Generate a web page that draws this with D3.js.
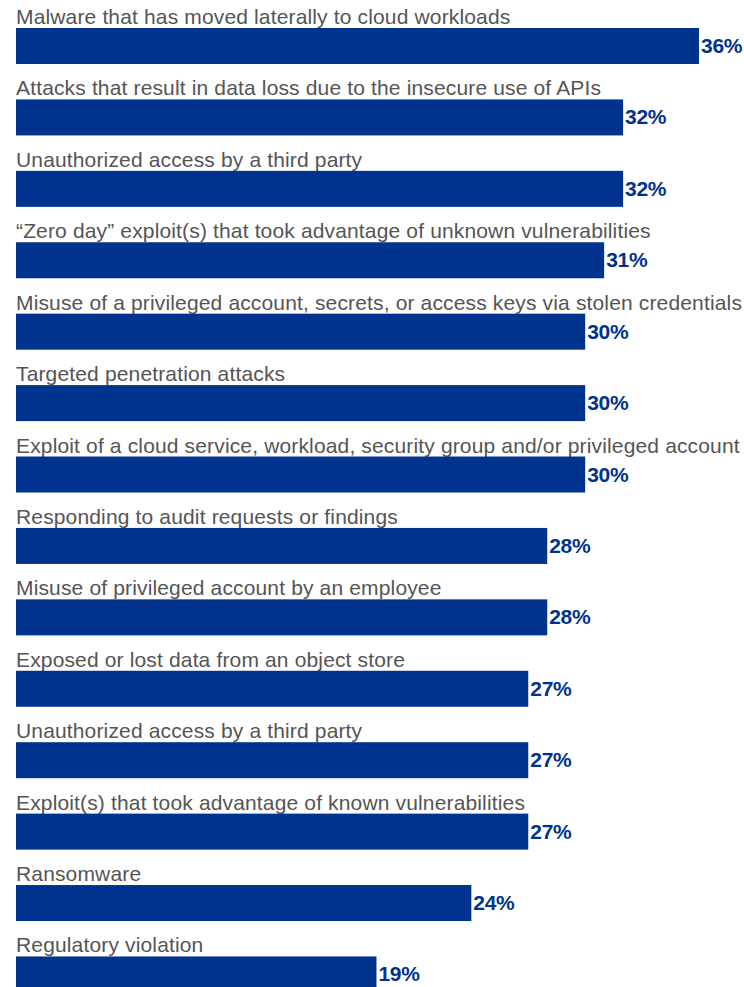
<!DOCTYPE html>
<html>
<head>
<meta charset="utf-8">
<script src="https://cdn.jsdelivr.net/npm/d3@7"></script>
<style>
  html, body { margin: 0; padding: 0; background: #fff; }
  #chart { width: 744px; height: 987px; }
</style>
</head>
<body>
<div id="chart"></div>
<script>
var categories = [
  "Malware that has moved laterally to cloud workloads",
  "Attacks that result in data loss due to the insecure use of APIs",
  "Unauthorized access by a third party",
  "\u201cZero day\u201d exploit(s) that took advantage of unknown vulnerabilities",
  "Misuse of a privileged account, secrets, or access keys via stolen credentials",
  "Targeted penetration attacks",
  "Exploit of a cloud service, workload, security group and/or privileged account",
  "Responding to audit requests or findings",
  "Misuse of privileged account by an employee",
  "Exposed or lost data from an object store",
  "Unauthorized access by a third party",
  "Exploit(s) that took advantage of known vulnerabilities",
  "Ransomware",
  "Regulatory violation"
];
var values = [36, 32, 32, 31, 30, 30, 30, 28, 28, 27, 27, 27, 24, 19];

var width = 744, height = 987;
var barColor = "#00338d";
var labelColor = "#555555";
var barLeft = 16, barHeight = 36;

var svg = d3.select("#chart").append("svg")
    .attr("width", width)
    .attr("height", height);

var x = d3.scaleLinear()
    .domain([0, 36])
    .range([barLeft, 699]);

var y = d3.scaleBand()
    .domain(d3.range(categories.length))
    .range([28, 28 + categories.length * 71.42])
    .padding(0);

var row = svg.selectAll("g.row")
    .data(values)
    .enter().append("g")
    .attr("class", "row")
    .attr("transform", function(d, i) { return "translate(0," + y(i) + ")"; });

// category label sits just above its bar
row.append("text")
    .attr("x", barLeft)
    .attr("y", -4)
    .style("font-family", "'Liberation Sans', Arial, sans-serif")
    .style("font-size", "21px")
    .style("letter-spacing", "0.15px")
    .style("fill", labelColor)
    .text(function(d, i) { return categories[i]; });

row.append("rect")
    .attr("x", barLeft)
    .attr("y", 0)
    .attr("width", function(d) { return x(d) - barLeft; })
    .attr("height", barHeight)
    .style("fill", barColor);

row.append("text")
    .attr("x", function(d) { return x(d) + 2; })
    .attr("y", barHeight / 2 + 7)
    .style("font-family", "'Liberation Sans', Arial, sans-serif")
    .style("font-size", "21px")
    .style("font-weight", "bold")
    .style("letter-spacing", "-0.3px")
    .style("fill", barColor)
    .text(function(d) { return d + "%"; });
</script>
</body>
</html>
